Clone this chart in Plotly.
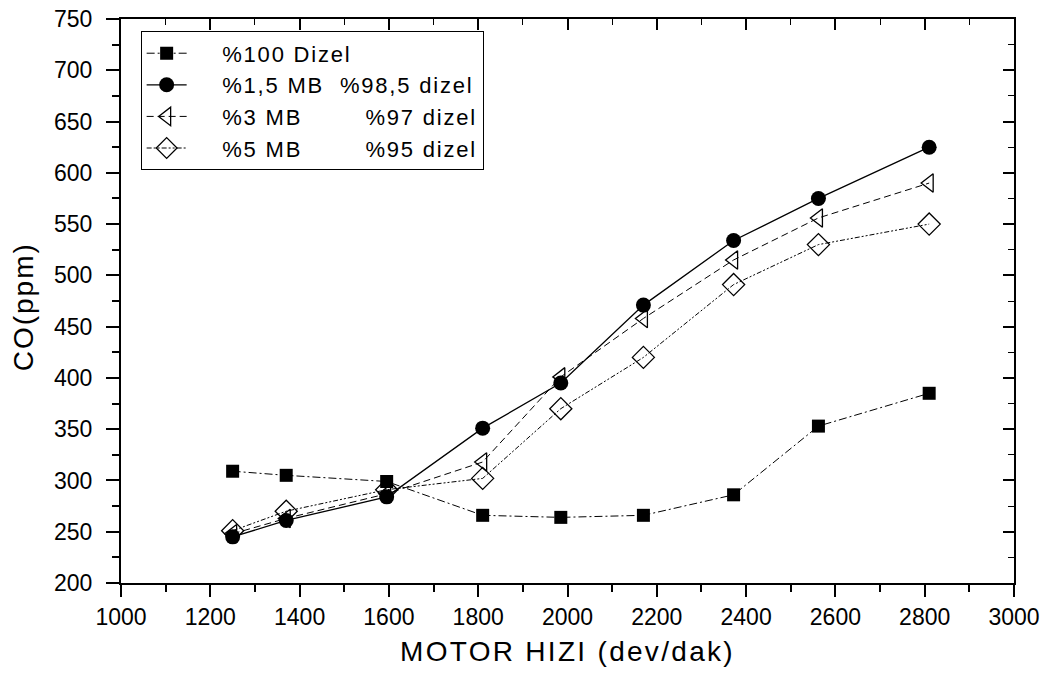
import plotly.graph_objects as go

speed = [1250, 1370, 1595, 1810, 1985, 2170, 2372, 2562, 2810]
dizel100 = [309, 305, 299, 266, 264, 266, 286, 353, 385]
mb15 = [245, 261, 284, 351, 395, 471, 534, 575, 625]
mb3 = [248, 263, 287, 318, 401, 458, 515, 556, 590]
mb5 = [251, 270, 291, 302, 370, 420, 491, 530, 550]

NB = "\u00a0"
names = ["%100 Dizel",
         "%1,5 MB" + NB * 2 + "%98,5 dizel",
         "%3 MB" + NB * 8 + "%97 dizel",
         "%5 MB" + NB * 8 + "%95 dizel"]


def sp(t, px):
    return f"<span style='letter-spacing:{px}px'>{t}</span>"


FONT = "Liberation Sans, Arial, sans-serif"
PAD = NB * 5

fig = go.Figure()
fig.add_trace(go.Scatter(x=speed, y=dizel100, name=PAD + sp(names[0], 1.8), mode="lines+markers",
                         line=dict(color="black", width=1, dash="8px,3px,2px,3px"),
                         marker=dict(symbol="square", size=13, color="black")))
fig.add_trace(go.Scatter(x=speed, y=mb15, name=PAD + sp(names[1], 1.8), mode="lines+markers",
                         line=dict(color="black", width=1.3, dash="solid"),
                         marker=dict(symbol="circle", size=15, color="black")))
fig.add_trace(go.Scatter(x=speed, y=mb3, name=PAD + sp(names[2], 1.8), mode="lines+markers",
                         line=dict(color="black", width=1, dash="7px,4px"),
                         marker=dict(symbol="triangle-left-open", size=16, color="black",
                                     line=dict(width=1.3))))
fig.add_trace(go.Scatter(x=speed, y=mb5, name=PAD + sp(names[3], 1.8), mode="lines+markers",
                         line=dict(color="black", width=1, dash="5px,2px,2px,2px,2px,2px"),
                         marker=dict(symbol="diamond-open", size=17, color="black",
                                     line=dict(width=1.3))))
# empty trace on overlay axes so the mirrored inside ticks are drawn
fig.add_trace(go.Scatter(x=[None], y=[None], xaxis="x2", yaxis="y2", showlegend=False,
                         hoverinfo="skip"))

tickfont = dict(family=FONT, size=23, color="black")
common = dict(showgrid=False, zeroline=False, showline=True, linecolor="black", linewidth=2,
              automargin=False)

fig.update_layout(
    width=1048, height=675,
    margin=dict(l=121, r=34, t=19, b=92),
    paper_bgcolor="white", plot_bgcolor="white",
    font=dict(family=FONT, color="black"),
    xaxis=dict(range=[1000, 3000], dtick=200, tick0=1000,
               ticks="outside", ticklen=12, tickwidth=2, tickcolor="black", tickfont=tickfont,
               ticklabeloverflow="allow",
               minor=dict(dtick=100, ticks="outside", ticklen=7, tickwidth=1.5, tickcolor="black"),
               title=dict(text=sp("MOTOR HIZI (dev/dak)", 2.3),
                          font=dict(family=FONT, size=28), standoff=13),
               **common),
    yaxis=dict(range=[200, 750], dtick=50, tick0=200,
               ticks="outside", ticklen=13, tickwidth=2, tickcolor="black", tickfont=tickfont,
               ticklabelstandoff=9, ticklabeloverflow="allow",
               minor=dict(dtick=25, ticks="outside", ticklen=7, tickwidth=1.5, tickcolor="black"),
               **common),
    xaxis2=dict(range=[1000, 3000], overlaying="x", side="top", dtick=200, tick0=1000,
                ticks="inside", ticklen=11, tickwidth=1.5, tickcolor="black",
                showticklabels=False,
                minor=dict(dtick=100, ticks="inside", ticklen=6, tickwidth=1, tickcolor="black"),
                **common),
    yaxis2=dict(range=[200, 750], overlaying="y", side="right", dtick=50, tick0=200,
                ticks="inside", ticklen=11, tickwidth=1.5, tickcolor="black",
                showticklabels=False,
                minor=dict(dtick=25, ticks="inside", ticklen=6, tickwidth=1, tickcolor="black"),
                **common),
    legend=dict(x=0.022, y=0.978, xanchor="left", yanchor="top",
                bgcolor="white", bordercolor="black", borderwidth=1,
                font=dict(family=FONT, size=22, color="black"),
                tracegroupgap=0, itemwidth=40),
    showlegend=True,
    annotations=[dict(text=sp("CO(ppm)", 2), textangle=-90, xref="paper", yref="paper",
                      x=-0.109, y=0.49, xanchor="center", yanchor="middle",
                      showarrow=False, font=dict(family=FONT, size=28, color="black"))],
)

fig.write_html("out.html", config={"displayModeBar": False},
               post_script="document.body.style.margin='0';document.body.style.overflow='hidden';")
